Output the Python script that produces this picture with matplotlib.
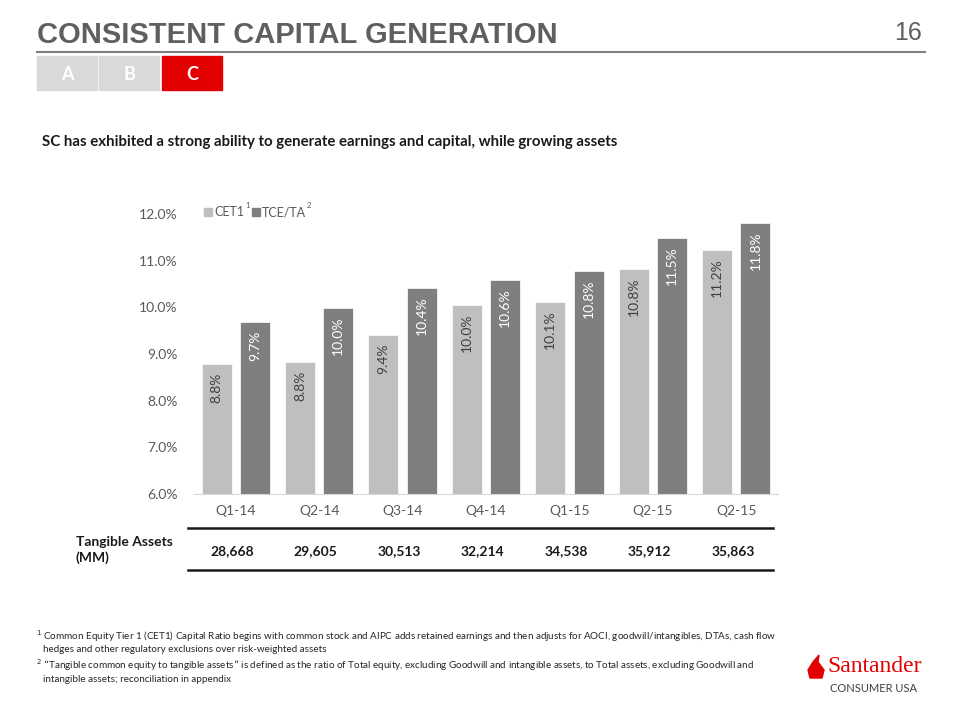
import matplotlib
matplotlib.use("Agg")
import matplotlib.pyplot as plt
from matplotlib.transforms import blended_transform_factory, Affine2D
from matplotlib.patches import Rectangle, Polygon
import numpy as np

plt.rcParams['font.family'] = ['Lato', 'DejaVu Sans']

# data
quarters = ['Q1-14', 'Q2-14', 'Q3-14', 'Q4-14', 'Q1-15', 'Q2-15', 'Q2-15']
cet1 = [8.79, 8.83, 9.41, 10.04, 10.11, 10.82, 11.23]
tce_ta = [9.69, 9.99, 10.41, 10.59, 10.78, 11.49, 11.81]
tangible_assets = ['28,668', '29,605', '30,513', '32,214', '34,538', '35,912', '35,863']
yticks = [6, 7, 8, 9, 10, 11, 12]

light = '#bfbfbf'
dark = '#7f7f7f'
txt_gray = '#595959'

fig = plt.figure(figsize=(9.6, 7.2), dpi=100)

# header
fig.text(37 / 960, 1 - 35 / 720, 'CONSISTENT CAPITAL GENERATION', fontsize=21,
         fontweight='bold', color='#5f5f5f', va='center', ha='left',
         family=['Liberation Sans', 'DejaVu Sans'])
fig.text(922 / 960, 1 - 33 / 720, '16', fontsize=18, color='#5f5f5f',
         va='center', ha='right', family=['Liberation Sans'])
fig.add_artist(plt.Line2D([37 / 960, 925 / 960], [1 - 52 / 720] * 2,
                          color='#7f7f7f', lw=1.5, transform=fig.transFigure))

# tabs
tabs = [('A', 37, '#d9d9d9'), ('B', 99, '#d9d9d9'), ('C', 162, '#e30000')]
for letter, x0, col in tabs:
    fig.add_artist(Rectangle((x0 / 960, 1 - 90 / 720), 60 / 960, 34 / 720,
                             color=col, transform=fig.transFigure))
    fig.text((x0 + 30) / 960, 1 - 74 / 720, letter, color='white', fontsize=13,
             fontweight='bold', ha='center', va='center')

fig.text(42 / 960, 1 - 142 / 720,
         'SC has exhibited a strong ability to generate earnings and capital, while growing assets',
         fontsize=10.8, fontweight='bold', color='#1a1a1a', va='center')

# chart
ax = fig.add_axes([194 / 960, 1 - 494 / 720, 584 / 960, 280 / 720])
x = np.arange(len(quarters))
w = 0.36
off = 0.23
ax.bar(x - off, [v - 6 for v in cet1], w, bottom=6, color=light, edgecolor='white', lw=0.5)
ax.bar(x + off, [v - 6 for v in tce_ta], w, bottom=6, color=dark, edgecolor='white', lw=0.5)

for xi, v in zip(x, cet1):
    ax.annotate(f'{v:.1f}%', (xi - off, v), xytext=(0, -6), textcoords='offset points',
                rotation=90, ha='center', va='top', fontsize=10, color='#404040')
for xi, v in zip(x, tce_ta):
    ax.annotate(f'{v:.1f}%', (xi + off, v), xytext=(0, -6), textcoords='offset points',
                rotation=90, ha='center', va='top', fontsize=10, color='white')

ax.set_xlim(-0.5, len(quarters) - 0.5)
ax.set_ylim(6, 12)
ax.set_yticks(yticks)
ax.set_yticklabels([f'{t:.1f}%' for t in yticks])
ax.set_xticks(x)
ax.set_xticklabels(quarters)
ax.tick_params(length=0, colors=txt_gray, labelsize=10)
ax.tick_params(axis='y', pad=12)
ax.tick_params(axis='x', pad=8)
for s in ['top', 'right', 'left']:
    ax.spines[s].set_visible(False)
ax.spines['bottom'].set_color('#d9d9d9')

# legend (drawn by hand to keep superscripts)
fig.add_artist(Rectangle((204 / 960, 1 - 216 / 720), 8 / 960, 8 / 720, color=light,
                         transform=fig.transFigure))
fig.text(214 / 960, 1 - 212 / 720, 'CET1', fontsize=9, color=txt_gray, va='center')
fig.text(245 / 960, 1 - 206 / 720, '1', fontsize=5.5, color=txt_gray, va='center')
fig.add_artist(Rectangle((252 / 960, 1 - 216 / 720), 8 / 960, 8 / 720, color=dark,
                         transform=fig.transFigure))
fig.text(262 / 960, 1 - 212 / 720, 'TCE/TA', fontsize=9, color=txt_gray, va='center')
fig.text(307 / 960, 1 - 206 / 720, '2', fontsize=5.5, color=txt_gray, va='center')

# tangible assets table
fig.add_artist(plt.Line2D([188 / 960, 773 / 960], [1 - 528 / 720] * 2, color='#1a1a1a',
                          lw=1.8, transform=fig.transFigure))
fig.add_artist(plt.Line2D([188 / 960, 773 / 960], [1 - 570 / 720] * 2, color='#1a1a1a',
                          lw=1.8, transform=fig.transFigure))
fig.text(76 / 960, 1 - 550 / 720, 'Tangible Assets\n(MM)', fontsize=10, fontweight='bold',
         color='#1a1a1a', va='center', linespacing=1.3)
tr = blended_transform_factory(ax.transData, fig.transFigure)
for xi, val in zip(x, tangible_assets):
    ax.text(xi - 0.04, 1 - 551 / 720, val, transform=tr, ha='center', va='center',
            fontsize=10, fontweight='bold', color='#1a1a1a')

# footnotes
notes = [
    (36, 636, '$^1$ Common Equity Tier 1 (CET1) Capital Ratio begins with common stock and AIPC adds retained earnings and then adjusts for AOCI, goodwill/intangibles, DTAs, cash flow'),
    (43, 650, 'hedges and other regulatory exclusions over risk-weighted assets'),
    (36, 665, '$^2$ \u201cTangible common equity to tangible assets\u201d is defined as the ratio of Total equity, excluding Goodwill and intangible assets, to Total assets, excluding Goodwill and'),
    (43, 680, 'intangible assets; reconciliation in appendix'),
]
for nx, ny, t in notes:
    fig.text(nx / 960, 1 - ny / 720, t, fontsize=7.1, color='#262626', va='center')

# logo
flame = Polygon([(810, 678), (822, 678), (824, 670), (818, 662), (819, 655),
                 (813, 662), (808, 670)], closed=True, color='#e30000')
flame.set_transform(Affine2D().scale(1 / 960, -1 / 720).translate(0, 1) + fig.transFigure)
fig.add_artist(flame)
fig.text(827 / 960, 1 - 667 / 720, 'Santander', fontsize=17, color='#e30000',
         family=['Liberation Serif'], va='center')
fig.text(874 / 960, 1 - 688 / 720, 'CONSUMER USA', fontsize=8, color='#404040',
         ha='center', va='center')

fig.savefig('out.png', dpi=100)
